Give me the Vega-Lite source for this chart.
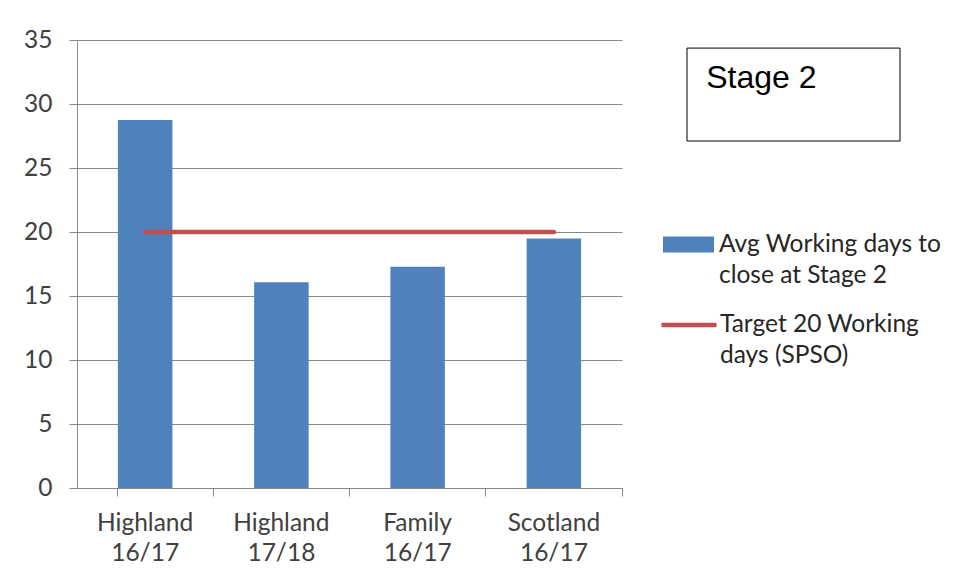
{
  "$schema": "https://vega.github.io/schema/vega-lite/v6.json",
  "background": "white",
  "padding": {"left": 23, "top": 27, "right": 0, "bottom": 0},
  "bounds": "flush",
  "spacing": 65,
  "config": {
    "font": "Lato",
    "axis": {"labelFont": "Lato", "labelFontSize": 24.5, "labelColor": "#404040", "domainColor": "#898989", "tickColor": "#898989", "gridColor": "#898989", "tickSize": 8, "title": null},
    "legend": {"labelFont": "Lato", "labelFontSize": 24.5, "labelColor": "#262626", "labelLimit": 400, "title": null}
  },
  "hconcat": [
    {
      "width": 545,
      "height": 448,
      "view": {"stroke": null},
      "data": {
        "values": [
          {"category": "Highland 16/17", "avg": 28.75, "target": 20},
          {"category": "Highland 17/18", "avg": 16.07, "target": 20},
          {"category": "Family 16/17", "avg": 17.29, "target": 20},
          {"category": "Scotland 16/17", "avg": 19.5, "target": 20}
        ]
      },
      "encoding": {
        "x": {
          "field": "category",
          "type": "nominal",
          "sort": null,
          "scale": {"paddingInner": 0.6, "paddingOuter": 0.3},
          "axis": {"labelAngle": 0, "bandPosition": 1.75, "tickExtra": true, "labelExpr": "split(datum.label, ' ')", "labelLineHeight": 30, "labelPadding": 15, "grid": false}
        }
      },
      "layer": [
        {
          "mark": {"type": "bar"},
          "encoding": {
            "y": {
              "field": "avg",
              "type": "quantitative",
              "scale": {"domain": [0, 35], "nice": false},
              "axis": {"values": [0, 5, 10, 15, 20, 25, 30, 35], "grid": true, "labelPadding": 17}
            },
            "fill": {
              "datum": "Avg Working days to close at Stage 2",
              "scale": {"range": ["#4F81BD"]},
              "legend": {
                "orient": "none", "legendX": 586, "legendY": 179,
                "symbolType": "M-1,-0.31H1V0.31H-1Z", "symbolSize": 2601, "symbolStrokeWidth": 0,
                "labelOffset": 5,
                "labelExpr": "['Avg Working days to', 'close at Stage 2']",
                "encode": {"labels": {"update": {"lineHeight": {"value": 31}}}}
              }
            }
          }
        },
        {
          "mark": {"type": "line", "strokeWidth": 4.5, "strokeCap": "round"},
          "encoding": {
            "y": {"field": "target", "type": "quantitative"},
            "stroke": {
              "datum": "Target 20 Working days (SPSO)",
              "scale": {"range": ["#C0504D"]},
              "legend": {
                "orient": "none", "legendX": 582, "legendY": 255,
                "symbolType": "stroke", "symbolSize": 3025, "symbolStrokeWidth": 4.5,
                "labelOffset": 1,
                "labelExpr": "['Target 20 Working', 'days (SPSO)']",
                "encode": {"labels": {"update": {"lineHeight": {"value": 31}}}}
              }
            }
          }
        }
      ]
    },
    {
      "width": 213,
      "height": 101,
      "view": {"stroke": null},
      "data": {"values": [{"label": "Stage 2", "x0": 0, "x1": 1, "y0": 0, "y1": 0.92, "tx": 0.09, "ty": 0.525}]},
      "layer": [
        {
          "mark": {"type": "rect", "fill": null, "stroke": "#000000", "strokeWidth": 1},
          "encoding": {
            "x": {"field": "x0", "type": "quantitative", "scale": {"domain": [0, 1]}, "axis": null},
            "x2": {"field": "x1"},
            "y": {"field": "y0", "type": "quantitative", "scale": {"domain": [0, 1]}, "axis": null},
            "y2": {"field": "y1"}
          }
        },
        {
          "mark": {"type": "text", "font": "Liberation Sans", "fontSize": 32, "align": "left", "baseline": "alphabetic", "color": "#000000"},
          "encoding": {
            "text": {"field": "label"},
            "x": {"field": "tx", "type": "quantitative", "scale": {"domain": [0, 1]}, "axis": null},
            "y": {"field": "ty", "type": "quantitative", "scale": {"domain": [0, 1]}, "axis": null}
          }
        }
      ]
    }
  ]
}
